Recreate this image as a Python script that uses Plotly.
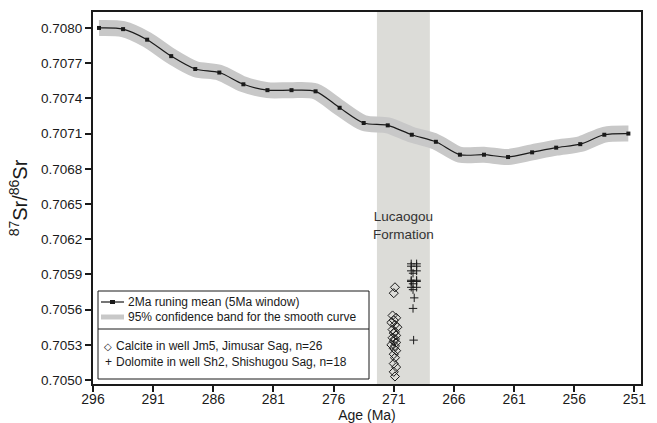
import plotly.graph_objects as go

# ---------------- data ----------------
mean_age = [295.5, 293.5, 291.5, 289.5, 287.5, 285.5, 283.5, 281.5, 279.5, 277.5, 275.5, 273.5,
            271.5, 269.5, 267.5, 265.5, 263.5, 261.5, 259.5, 257.5, 255.5, 253.5, 251.5]
mean_sr = [0.70800, 0.70799, 0.70790, 0.70776, 0.70765, 0.70762, 0.70752, 0.70747, 0.70747, 0.70746,
           0.70732, 0.70719, 0.70717, 0.70709, 0.70703, 0.70692, 0.70692, 0.70690, 0.70694, 0.70698,
           0.70701, 0.70709, 0.70710]

calcite_age = [270.9, 271.0, 271.1, 270.8, 271.0, 271.2, 270.9, 270.7, 271.1, 270.9, 271.0, 270.8, 271.1,
               270.9, 271.0, 270.8, 271.2, 270.9, 271.0, 270.8, 271.0, 270.9, 271.0, 270.8, 271.0, 270.9]
calcite_sr = [0.70579, 0.70574, 0.70555, 0.70553, 0.70551, 0.70549, 0.70547, 0.70545, 0.70543, 0.70541,
              0.70540, 0.70538, 0.70536, 0.70535, 0.70533, 0.70532, 0.70530, 0.70529, 0.70527, 0.70525,
              0.70522, 0.70519, 0.70514, 0.70511, 0.70507, 0.70503]

dolomite_age = [269.55, 269.1, 269.55, 269.1, 269.55, 269.1, 269.4, 269.55, 269.1, 269.55, 269.1,
                269.4, 269.55, 269.1, 269.4, 269.3, 269.4, 269.35]
dolomite_sr = [0.70599, 0.70599, 0.70597, 0.70597, 0.70593, 0.70593, 0.70591, 0.70585, 0.70585,
               0.70584, 0.70584, 0.70582, 0.70579, 0.70579, 0.70577, 0.70570, 0.70561, 0.70534]

formation_range = [272.4, 268.0]
formation_label = "Lucaogou<br>Formation"

x_ticks = [296, 291, 286, 281, 276, 271, 266, 261, 256, 251]
y_ticks = [0.7050, 0.7053, 0.7056, 0.7059, 0.7062, 0.7065, 0.7068, 0.7071, 0.7074, 0.7077, 0.7080]

legend_labels = ["2Ma runing mean (5Ma window)",
                 "95% confidence band for the smooth curve",
                 "Calcite in well Jm5, Jimusar Sag, n=26",
                 "Dolomite in well Sh2, Shishugou Sag, n=18"]

# ---------------- layout geometry ----------------
W, H = 657, 423
L, R, T, B = 93, 16, 12, 39
PW, PH = W - L - R, H - T - B
FONT = "Liberation Sans, Arial, sans-serif"


def px(x):
    return (x - L) / PW


def py(y):
    return 1 - (y - T) / PH


fig = go.Figure()

# confidence band (thick grey stroke)
fig.add_trace(go.Scatter(x=mean_age, y=mean_sr, mode="lines",
                         line=dict(color="#c8c8c8", width=16, shape="spline", smoothing=0.8),
                         hoverinfo="skip", showlegend=False))
# running mean
fig.add_trace(go.Scatter(x=mean_age, y=mean_sr, mode="lines+markers",
                         line=dict(color="#1a1a1a", width=1.2, shape="spline", smoothing=0.8),
                         marker=dict(symbol="square", size=4, color="#1a1a1a"),
                         showlegend=False))
# calcite
fig.add_trace(go.Scatter(x=calcite_age, y=calcite_sr, mode="markers",
                         marker=dict(symbol="diamond-open", size=7, color="#1a1a1a",
                                     line=dict(width=1, color="#1a1a1a")),
                         showlegend=False))
# dolomite
fig.add_trace(go.Scatter(x=dolomite_age, y=dolomite_sr, mode="markers",
                         marker=dict(symbol="cross-thin", size=6,
                                     line=dict(width=1, color="#1a1a1a")),
                         showlegend=False))

shapes = []
# formation band
shapes.append(dict(type="rect", xref="x", yref="paper", x0=formation_range[0], x1=formation_range[1],
                   y0=0, y1=1, fillcolor="#dcdcd8", line=dict(width=0), layer="below"))

# manual legend box
bx0, bx1, by0, by1, bdiv = 98, 369, 291, 379, 329
shapes.append(dict(type="rect", xref="paper", yref="paper", x0=px(bx0), x1=px(bx1), y0=py(by0), y1=py(by1),
                   fillcolor="white", line=dict(color="#1a1a1a", width=1), layer="above"))
shapes.append(dict(type="line", xref="paper", yref="paper", x0=px(bx0), x1=px(bx1), y0=py(bdiv), y1=py(bdiv),
                   line=dict(color="#1a1a1a", width=1), layer="above"))
rows = [302, 317, 346, 362]
shapes.append(dict(type="line", xref="paper", yref="paper", x0=px(101), x1=px(124), y0=py(rows[0]), y1=py(rows[0]),
                   line=dict(color="#1a1a1a", width=1.2), layer="above"))
shapes.append(dict(type="rect", xref="paper", yref="paper", x0=px(110), x1=px(115),
                   y0=py(rows[0] - 2), y1=py(rows[0] + 2), fillcolor="#1a1a1a", line=dict(width=0), layer="above"))
shapes.append(dict(type="line", xref="paper", yref="paper", x0=px(101), x1=px(124), y0=py(rows[1]), y1=py(rows[1]),
                   line=dict(color="#c8c8c8", width=5), layer="above"))

annotations = []
for i, lab in enumerate(legend_labels):
    xt = 126 if i < 2 else 114
    annotations.append(dict(xref="paper", yref="paper", x=px(xt), y=py(rows[i]), text=lab, showarrow=False,
                            xanchor="left", yanchor="middle", font=dict(family=FONT, size=12, color="#1a1a1a")))
annotations.append(dict(xref="paper", yref="paper", x=px(108), y=py(rows[2]), text="◇", showarrow=False,
                        xanchor="center", yanchor="middle", font=dict(family="DejaVu Sans", size=10, color="#1a1a1a")))
annotations.append(dict(xref="paper", yref="paper", x=px(108), y=py(rows[3]), text="+", showarrow=False,
                        xanchor="center", yanchor="middle", font=dict(family=FONT, size=12, color="#1a1a1a")))
# formation label
annotations.append(dict(xref="x", yref="y", x=sum(formation_range) / 2, y=0.70632, text=formation_label,
                        showarrow=False, xanchor="center", yanchor="middle",
                        font=dict(family=FONT, size=13.5, color="#333333")))

fig.update_layout(
    width=W, height=H,
    margin=dict(l=L, r=R, t=T, b=B, pad=0, autoexpand=False),
    paper_bgcolor="white", plot_bgcolor="white",
    font=dict(family=FONT, size=13.5, color="#1a1a1a"),
    shapes=shapes, annotations=annotations,
    showlegend=False,
)
fig.update_xaxes(range=[296.0, 250.45], tickvals=x_ticks, ticktext=[str(v) for v in x_ticks],
                 automargin=False, ticklabelstandoff=-5,
                 showgrid=False, zeroline=False, showline=True, linecolor="#1a1a1a", linewidth=2,
                 mirror=True, ticks="outside", ticklen=6, tickwidth=1.5, tickcolor="#1a1a1a",
                 tickfont=dict(size=14),
                 title=dict(text="Age (Ma)", font=dict(size=14), standoff=2))
fig.update_yaxes(range=[0.704966, 0.708136], tickvals=y_ticks, tickformat=".4f",
                 automargin=False,
                 showgrid=False, zeroline=False, showline=True, linecolor="#1a1a1a", linewidth=2,
                 mirror=True, ticks="outside", ticklen=6, tickwidth=1.5, tickcolor="#1a1a1a",
                 tickfont=dict(size=13.5),
                 title=dict(text="<sup>87</sup>Sr/<sup>86</sup>Sr", font=dict(size=20), standoff=8))

fig.write_html("out.html")
